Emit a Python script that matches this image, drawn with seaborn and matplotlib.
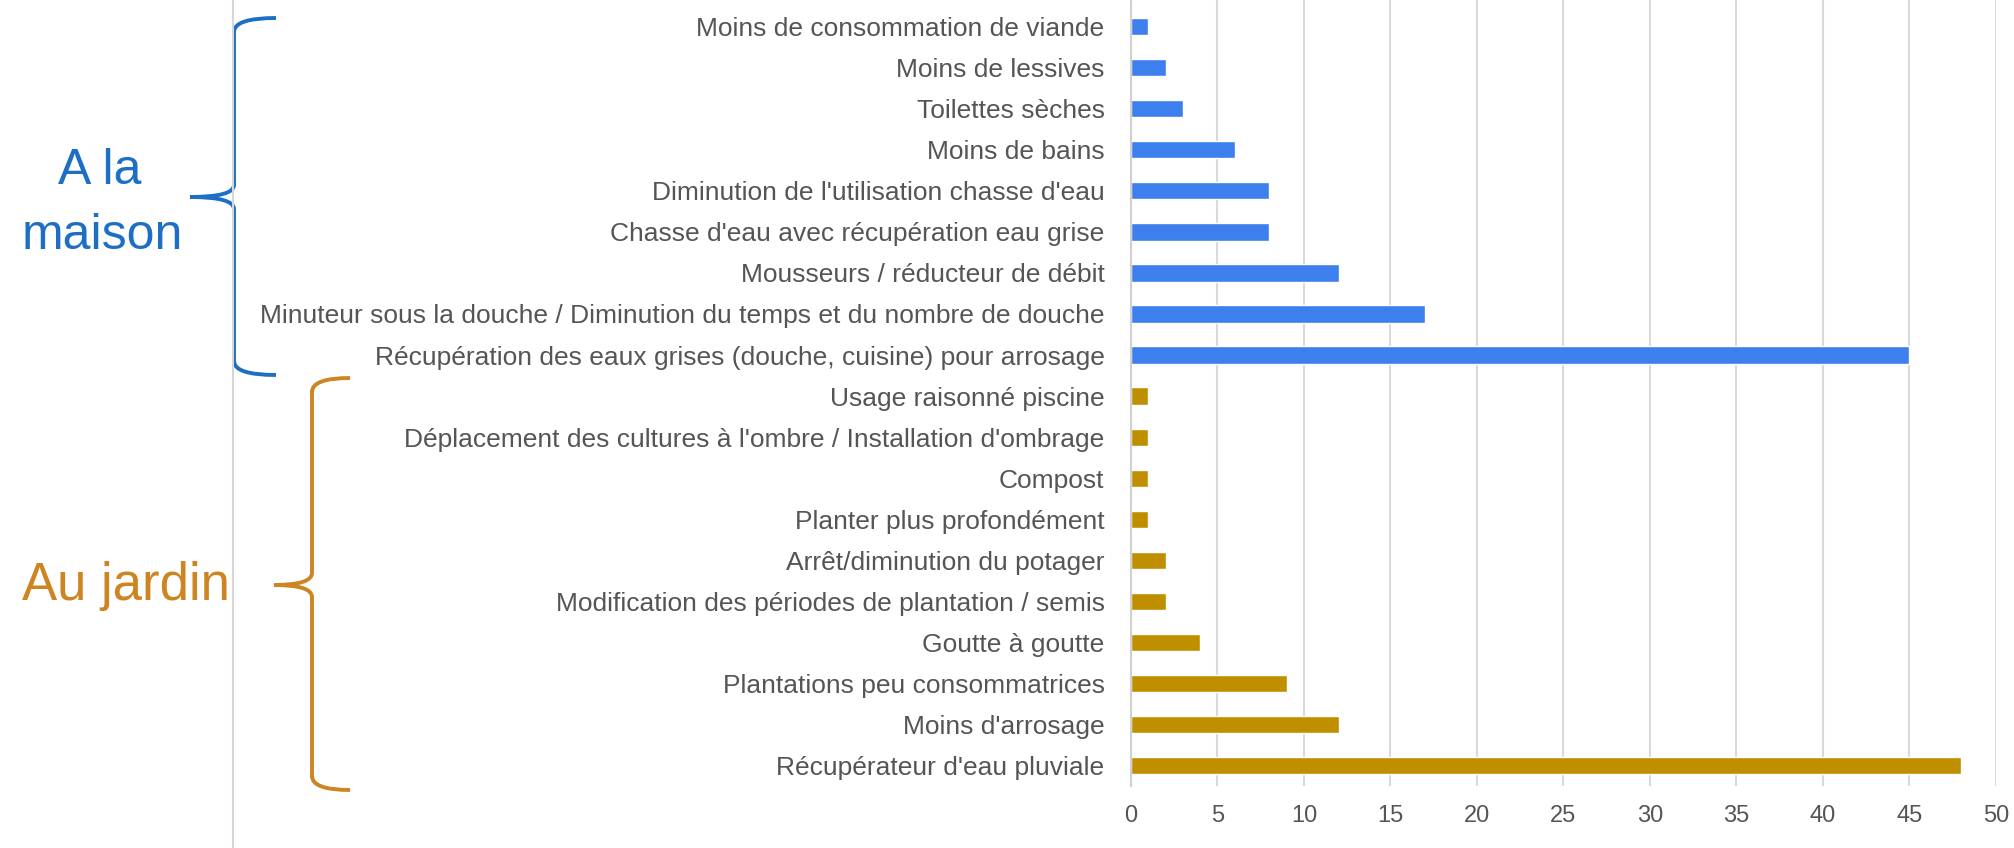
import numpy as np
import pandas as pd
import seaborn as sns
import matplotlib.pyplot as plt
from matplotlib.path import Path
from matplotlib.patches import PathPatch
from matplotlib.lines import Line2D

# ======== données =========
actions = ["Moins de consommation de viande",
           "Moins de lessives",
           "Toilettes sèches",
           "Moins de bains",
           "Diminution de l'utilisation chasse d'eau",
           "Chasse d'eau avec récupération eau grise",
           "Mousseurs / réducteur de débit",
           "Minuteur sous la douche / Diminution du temps et du nombre de douche",
           "Récupération des eaux grises (douche, cuisine) pour arrosage",
           "Usage raisonné piscine",
           "Déplacement des cultures à l'ombre / Installation d'ombrage",
           "Compost",
           "Planter plus profondément",
           "Arrêt/diminution du potager",
           "Modification des périodes de plantation / semis",
           "Goutte à goutte",
           "Plantations peu consommatrices",
           "Moins d'arrosage",
           "Récupérateur d'eau pluviale"]
nombre = [1, 2, 3, 6, 8, 8, 12, 17, 45,
          1, 1, 1, 1, 2, 2, 4, 9, 12, 48]
lieu = ["maison"] * 9 + ["jardin"] * 10
couleurs = {"maison": "#3d7fec", "jardin": "#bf8f00"}

df = pd.DataFrame({"action": actions, "nombre": nombre, "lieu": lieu})

sns.set_style("white")
plt.rcParams['font.family'] = ['Liberation Sans', 'DejaVu Sans']

W, H = 2015, 848
fig = plt.figure(figsize=(W / 100, H / 100), dpi=100)
ax = fig.add_axes([1131 / W, 1 - 786 / H, (1996 - 1131) / W, 786 / H])

sns.barplot(data=df, x="nombre", y="action", hue="lieu", palette=couleurs,
            dodge=False, width=0.42, legend=False, ax=ax, saturation=1)

ax.set_xlim(0, 50)
ax.set_ylim(18.5, -0.65)
ax.set_xticks(range(0, 51, 5))
ax.set_xlabel("")
ax.set_ylabel("")
ax.grid(axis="x", color="#d9d9d9", linewidth=1.5)
ax.set_axisbelow(True)
for s in ["top", "right", "bottom"]:
    ax.spines[s].set_visible(False)
ax.spines["left"].set_color("#d0d0d0")
ax.spines["left"].set_linewidth(1.5)
ax.tick_params(axis="y", length=0, pad=19, labelsize=19, labelcolor="#555555")
ax.tick_params(axis="x", length=0, pad=14, labelsize=17, labelcolor="#555555")

# ligne grise verticale à gauche
fig.add_artist(Line2D([233 / W, 233 / W], [0, 1], color="#d6d6d6", lw=1.5))


def accolade(x, y0, y1, ym, xc, xt, couleur):
    pts = [(xt, y0), (x, y0), (x, y0 + 14),
           (x, ym - 12), (x, ym), (xc, ym),
           (x, ym), (x, ym + 12),
           (x, y1 - 14), (x, y1), (xt, y1)]
    codes = [Path.MOVETO, Path.CURVE3, Path.CURVE3,
             Path.LINETO, Path.CURVE3, Path.CURVE3,
             Path.CURVE3, Path.CURVE3,
             Path.LINETO, Path.CURVE3, Path.CURVE3]
    pts = [(px / W, 1 - py / H) for px, py in pts]
    fig.add_artist(PathPatch(Path(pts, codes), fill=False, edgecolor=couleur,
                             lw=2.8, transform=fig.transFigure))


accolade(234, 18, 375, 197, 190, 276, "#1c6fc4")
accolade(312, 378, 790, 585, 274, 350, "#cd8521")

fig.text(100 / W, 1 - 184 / H, "A la", ha="center", va="baseline",
         fontsize=36, color="#1c6fc4")
fig.text(102 / W, 1 - 249 / H, "maison", ha="center", va="baseline",
         fontsize=36, color="#1c6fc4")
fig.text(126 / W, 1 - 600 / H, "Au jardin", ha="center", va="baseline",
         fontsize=38, color="#cd8521")

fig.savefig("out.png", dpi=100, facecolor="white")
